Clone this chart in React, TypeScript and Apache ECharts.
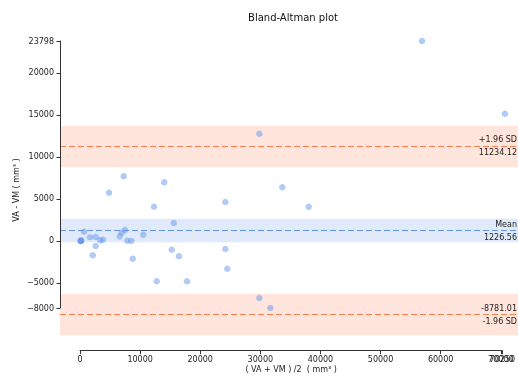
import React, { useEffect, useRef } from "react";
import * as echarts from "echarts";

// Averages (VA + VM)/2 and differences VA - VM
const avgValues = [
  56530, 70250, 29640, 33440, 37800, 24020, 13930, 7220, 4790, 12230, 15490,
  100, 200, 150, 170,
  660, 1650, 2595, 2595, 2100, 3355, 3800, 6560, 6890, 7440, 7820, 8480, 8710,
  10460, 15160, 16360, 24020, 24350, 12680, 17690, 29640, 31460,
];
const diffValues = [
  23798, 15140, 12758, 6375, 4065, 4625, 6971, 7685, 5732, 4065, 2124,
  0, 50, -30, 20,
  1088, 421, 456, -615, -1723, 60, 131, 536, 965, 1286, 12, -24, -2128,
  727, -1056, -1842, -972, -3319, -4819, -4819, -6808, -8000,
];

const meanDiff = 1226.56;
const upperLoA = 11234.12;
const lowerLoA = -8781.01;
const loaCiHalf = 2470;
const meanCiHalf = 1410;

const yTicks = [-8000, -5000, 0, 5000, 10000, 15000, 20000, 23798];
const xTicks = [0, 10000, 20000, 30000, 40000, 50000, 60000, 70250];
const xTicksOverlap = [70000];

const FONT = "DejaVu Sans";
const BLUE = "#6495ed";
const CORAL = "#fa7f50";

export default function App() {
  const ref = useRef<HTMLDivElement>(null);

  useEffect(() => {
    if (!ref.current) return;
    const chart = echarts.init(ref.current, undefined, { renderer: "svg" });
    const points = avgValues.map((x, i) => [x, diffValues[i]]);
    const lineLabel = (text: string, pos: string) => ({
      show: true,
      formatter: text,
      position: pos,
      distance: [1, 2.5],
      fontSize: 8,
      fontFamily: FONT,
      color: "#222",
    });
    const dashed = (color: string) => ({ color, type: [6, 3], width: 1.2 });
    const xLabelStyle = {
      showMaxLabel: true,
      showMinLabel: true,
      hideOverlap: false,
      fontSize: 8,
      fontFamily: FONT,
      color: "#222",
      margin: 5,
      formatter: (v: number) => String(v),
    };

    chart.setOption({
      animation: false,
      textStyle: { fontFamily: FONT },
      grid: [
        { left: 60, right: 0, top: 36, bottom: 42 },
        { left: 60, top: 41, height: 267, width: 100 },
        { left: 80, width: 425, bottom: 28.3, height: 50 },
      ],
      xAxis: [
        { gridIndex: 0, type: "value", min: -3306, max: 72399, show: false },
        { gridIndex: 1, type: "value", min: 0, max: 1, show: false },
        {
          gridIndex: 2,
          type: "value",
          min: 0,
          max: 70250,
          z: 10,
          splitLine: { show: false },
          axisLine: { show: true, lineStyle: { color: "#333", width: 1 } },
          axisTick: {
            show: true,
            length: 3.5,
            customValues: xTicks,
            lineStyle: { color: "#333" },
          },
          axisLabel: { ...xLabelStyle, customValues: xTicks },
          name: "( VA + VM ) /2  ( mm³ )",
          nameLocation: "middle",
          nameGap: 15,
          nameTextStyle: { fontSize: 8, fontFamily: FONT, color: "#222" },
        },
        {
          gridIndex: 2,
          type: "value",
          position: "bottom",
          min: 0,
          max: 70250,
          z: 10,
          splitLine: { show: false },
          axisLine: { show: false },
          axisTick: {
            show: true,
            length: 3.5,
            customValues: xTicksOverlap,
            lineStyle: { color: "#333" },
          },
          axisLabel: { ...xLabelStyle, customValues: xTicksOverlap },
        },
      ],
      yAxis: [
        { gridIndex: 0, type: "value", min: -11452, max: 24393, show: false },
        {
          gridIndex: 1,
          type: "value",
          min: -8000,
          max: 23798,
          z: 10,
          splitLine: { show: false },
          axisLine: { show: true, lineStyle: { color: "#333", width: 1 } },
          axisTick: {
            show: true,
            length: 3.5,
            customValues: yTicks,
            lineStyle: { color: "#333" },
          },
          axisLabel: {
            customValues: yTicks,
            showMaxLabel: true,
            showMinLabel: true,
            fontSize: 8,
            fontFamily: FONT,
            color: "#222",
            margin: 6,
            formatter: (v: number) => (v < 0 ? "\u2212" + Math.abs(v) : String(v)),
          },
        },
        { gridIndex: 2, type: "value", min: 0, max: 1, show: false },
      ],
      graphic: [
        {
          type: "text",
          x: 293,
          y: 17,
          style: {
            text: "Bland-Altman plot",
            fontSize: 10,
            fontFamily: FONT,
            fill: "#111",
            align: "center",
            verticalAlign: "middle",
          },
        },
        {
          type: "text",
          x: 16,
          y: 190,
          rotation: Math.PI / 2,
          style: {
            text: "VA - VM ( mm³ )",
            fontSize: 8,
            fontFamily: FONT,
            fill: "#222",
            align: "center",
            verticalAlign: "middle",
          },
        },
      ],
      series: [
        {
          type: "line",
          xAxisIndex: 0,
          yAxisIndex: 0,
          data: [],
          z: 1,
          silent: true,
          markArea: {
            silent: true,
            data: [
              [
                { yAxis: upperLoA - loaCiHalf, itemStyle: { color: "#ffe5dc" } },
                { yAxis: upperLoA + loaCiHalf },
              ],
              [
                { yAxis: lowerLoA - loaCiHalf, itemStyle: { color: "#ffe5dc" } },
                { yAxis: lowerLoA + loaCiHalf },
              ],
              [
                { yAxis: meanDiff - meanCiHalf, itemStyle: { color: "#e0eafb" } },
                { yAxis: meanDiff + meanCiHalf },
              ],
            ],
          },
          markLine: {
            silent: true,
            symbol: "none",
            data: [
              { yAxis: upperLoA, lineStyle: dashed(CORAL), label: lineLabel("+1.96 SD", "insideEndTop") },
              { yAxis: upperLoA, lineStyle: dashed(CORAL), label: lineLabel(upperLoA.toFixed(2), "insideEndBottom") },
              { yAxis: meanDiff, lineStyle: dashed(BLUE), label: lineLabel("Mean", "insideEndTop") },
              { yAxis: meanDiff, lineStyle: dashed(BLUE), label: lineLabel(meanDiff.toFixed(2), "insideEndBottom") },
              { yAxis: lowerLoA, lineStyle: dashed(CORAL), label: lineLabel(lowerLoA.toFixed(2), "insideEndTop") },
              { yAxis: lowerLoA, lineStyle: dashed(CORAL), label: lineLabel("-1.96 SD", "insideEndBottom") },
            ],
          },
        },
        {
          type: "scatter",
          xAxisIndex: 0,
          yAxisIndex: 0,
          data: points,
          symbolSize: 6.5,
          z: 3,
          clip: false,
          itemStyle: { color: BLUE, opacity: 0.5 },
        },
      ],
    });
    return () => chart.dispose();
  }, []);

  return (
    <div
      ref={ref}
      style={{ position: "fixed", left: 0, top: 0, width: 518, height: 379 }}
    />
  );
}
